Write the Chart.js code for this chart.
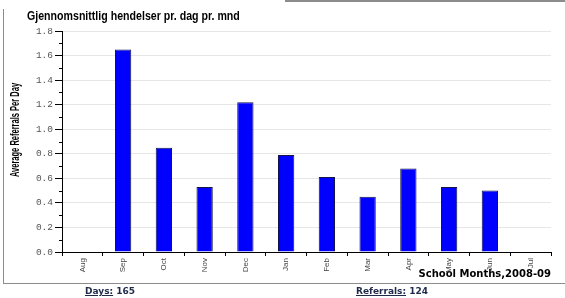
<!DOCTYPE html>
<html>
<head>
<meta charset="utf-8">
<script src="https://cdn.jsdelivr.net/npm/chart.js@4.4.1/dist/chart.umd.min.js"></script>
<style>
    body { margin: 0; background: #fff; }
    #wrap { position: relative; width: 565px; height: 298px; overflow: hidden; }
    #chart { position: absolute; left: 0; top: 0; }
    .frame { position: absolute; background: #8c8c8c; }
    .txt { position: absolute; white-space: nowrap; }
    #title { left: 27px; top: 8px; font: bold 13px "Liberation Sans", Arial, sans-serif; color: #000; transform-origin: 0 50%; }
    #ytitle { left: 15px; top: 130px; font: bold 12px "Liberation Sans", Arial, sans-serif; color: #000; }
    .foot { top: 286px; font: bold 9px "DejaVu Sans", sans-serif; color: #1f2a4a; }
    .foot u { text-decoration: underline; }
</style>
</head>
<body>
<div id="wrap">
    <canvas id="chart" width="565" height="298"></canvas>
    <div class="frame" style="left:3px; top:9px; width:1px; height:275px;"></div>
    <div class="frame" style="left:285px; top:0px; width:280px; height:2px;"></div>
    <div class="frame" style="left:3px; top:283px; width:562px; height:1px;"></div>
    <div class="txt" id="title">Gjennomsnittlig hendelser pr. dag pr. mnd</div>
    <div class="txt" id="ytitle">Average Referrals Per Day</div>
    <div class="txt foot" style="left:85px;"><u>Days:</u> 165</div>
    <div class="txt foot" style="left:356px;"><u>Referrals:</u> 124</div>
</div>
<script>
// School months
var months = ["Aug", "Sep", "Oct", "Nov", "Dec", "Jan", "Feb", "Mar", "Apr", "May", "Jun", "Jul"];
var avgReferrals = [null, 1.65, 0.85, 0.53, 1.22, 0.79, 0.61, 0.45, 0.68, 0.53, 0.50, null];
var yMinorTicks = [0.1, 0.3, 0.5, 0.7, 0.9, 1.1, 1.3, 1.5, 1.7];
var xTitle = "School Months,2008-09";

// the original uses a narrow font, squeeze the html titles to the same length
var title = document.getElementById("title");
title.style.transform = "scaleX(" + (213 / title.offsetWidth) + ")";
var ytitle = document.getElementById("ytitle");
var ys = 94 / ytitle.offsetWidth;
ytitle.style.transform = "translate(-50%, -50%) rotate(-90deg) scaleX(" + ys + ")";

// small ticks between the labelled ones
var minorTicks = {
    id: "minorTicks",
    afterDraw: function (chart) {
        var ctx = chart.ctx;
        var y = chart.scales.y;
        var left = chart.chartArea.left;
        ctx.save();
        ctx.strokeStyle = "#000";
        ctx.lineWidth = 1;
        yMinorTicks.forEach(function (v) {
            var py = Math.round(y.getPixelForValue(v)) + 0.5;
            ctx.beginPath();
            ctx.moveTo(left - 3, py);
            ctx.lineTo(left, py);
            ctx.stroke();
        });
        ctx.restore();
    }
};

new Chart("chart", {
    type: "bar",
    data: {
        labels: months,
        datasets: [{
            data: avgReferrals,
            backgroundColor: "#0000ff",
            borderColor: "#14144a",
            borderWidth: 1,
            categoryPercentage: 1.0,
            barPercentage: 0.4
        }]
    },
    options: {
        responsive: false,
        animation: false,
        layout: {
            padding: { left: 0, right: 14, top: 31, bottom: 16 }
        },
        plugins: {
            legend: { display: false },
            tooltip: { enabled: false }
        },
        scales: {
            x: {
                afterFit: function (scale) { scale.height = 30; },
                grid: {
                    offset: true,
                    drawOnChartArea: false,
                    tickColor: "#000",
                    tickLength: 4
                },
                border: { color: "#000" },
                ticks: {
                    minRotation: 90,
                    maxRotation: 90,
                    padding: 2,
                    color: "#444",
                    font: { family: "'Liberation Sans', Arial, sans-serif", size: 8 }
                },
                title: {
                    display: true,
                    text: xTitle,
                    align: "end",
                    color: "#000",
                    padding: { top: 0, bottom: 2 },
                    font: { family: "'DejaVu Sans', sans-serif", size: 10, weight: "bold" }
                }
            },
            y: {
                min: 0,
                max: 1.8,
                afterFit: function (scale) { scale.width = 62; },
                grid: {
                    color: function (c) { return c.index === 0 ? "rgba(0,0,0,0)" : "#e6e6e6"; },
                    tickColor: "#000",
                    tickLength: 7
                },
                border: { color: "#000" },
                ticks: {
                    stepSize: 0.2,
                    padding: 2,
                    color: "#555",
                    font: { family: "'Liberation Mono', 'DejaVu Sans Mono', monospace", size: 9.5 },
                    callback: function (v) { return v.toFixed(1); }
                }
            }
        }
    },
    plugins: [minorTicks]
});
</script>
</body>
</html>
